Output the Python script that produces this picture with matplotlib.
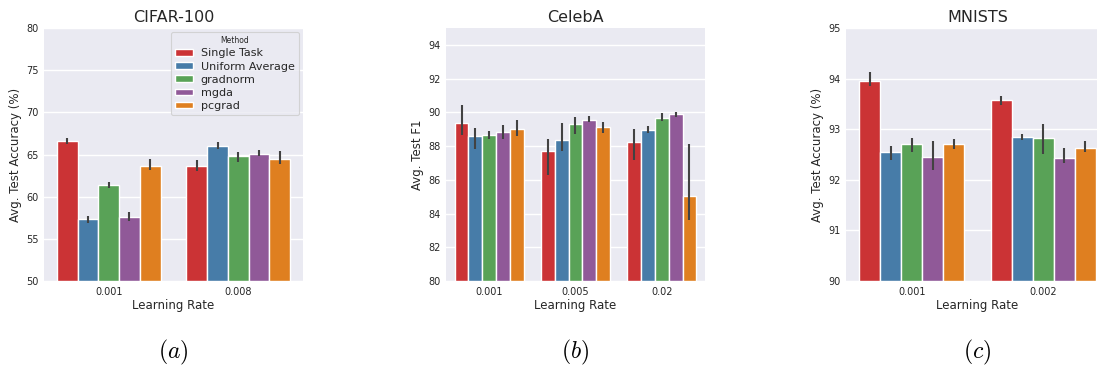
import colorsys
import matplotlib
matplotlib.use("Agg")
import matplotlib.pyplot as plt
import matplotlib.colors as mcolors
import numpy as np

methods = ["Single Task", "Uniform Average", "gradnorm", "mgda", "pcgrad"]

# CIFAR-100
cifar_lr = ["0.001", "0.008"]
cifar_mean = [[66.6, 57.3, 61.4, 57.6, 63.6],
              [63.6, 65.95, 64.85, 65.1, 64.45]]
cifar_lo = [[66.28, 56.92, 61.0, 57.12, 63.12],
            [63.04, 65.68, 64.16, 64.8, 63.88]]
cifar_hi = [[67.0, 57.72, 61.72, 58.2, 64.44],
            [64.36, 66.44, 65.32, 65.48, 65.4]]

# CelebA
celeba_lr = ["0.001", "0.005", "0.02"]
celeba_mean = [[89.38, 88.62, 88.68, 88.84, 89.02],
               [87.7, 88.38, 89.28, 89.56, 89.16],
               [88.22, 88.98, 89.68, 89.9, 85.06]]
celeba_lo = [[88.68, 87.84, 88.42, 88.42, 88.6],
             [86.3, 87.7, 88.72, 89.42, 88.78],
             [87.18, 88.78, 89.48, 89.74, 83.6]]
celeba_hi = [[90.44, 89.08, 88.9, 89.22, 89.54],
             [88.44, 89.34, 89.7, 89.78, 89.4],
             [89.04, 89.2, 89.94, 90.04, 88.1]]

# MNISTS
mnist_lr = ["0.001", "0.002"]
mnist_mean = [[93.95, 92.55, 92.7, 92.45, 92.71],
              [93.58, 92.84, 92.83, 92.43, 92.63]]
mnist_lo = [[93.86, 92.4, 92.55, 92.2, 92.6],
            [93.48, 92.79, 92.51, 92.33, 92.55]]
mnist_hi = [[94.14, 92.66, 92.82, 92.77, 92.8],
            [93.65, 92.9, 93.1, 92.62, 92.77]]


def desat(c, prop=0.75):
    h, l, s = colorsys.rgb_to_hls(*mcolors.to_rgb(c))
    return colorsys.hls_to_rgb(h, l, s * prop)


colors = [desat(c) for c in ["#e41a1c", "#377eb8", "#4daf4a", "#984ea3", "#ff7f00"]]
txt = "#262626"

fig = plt.figure(figsize=(10.97, 3.66), dpi=100)


def panel(rect, title, lrs, mean, lo, hi, ylim, yticks, ylabel, caption, legend=False):
    ax = fig.add_axes(rect)
    ax.set_facecolor("#eaeaf2")
    for s in ax.spines.values():
        s.set_visible(False)
    ax.grid(axis="y", color="white", lw=1.0)
    ax.set_axisbelow(True)
    w = 0.16
    for j, m in enumerate(methods):
        xs = np.arange(len(lrs)) + (j - 2) * w
        ys = [mean[i][j] for i in range(len(lrs))]
        ax.bar(xs, np.array(ys) - ylim[0], bottom=ylim[0], width=w, color=colors[j],
               edgecolor="white", lw=1.0, label=m)
        ax.vlines(xs, [lo[i][j] for i in range(len(lrs))], [hi[i][j] for i in range(len(lrs))],
                  color="#424242", lw=1.5, zorder=3)
    ax.set_xlim(-0.5, len(lrs) - 0.5)
    ax.set_ylim(*ylim)
    ax.set_yticks(yticks)
    ax.set_xticks(range(len(lrs)))
    ax.set_xticklabels(lrs)
    ax.tick_params(length=0, labelsize=7, colors=txt, pad=4)
    ax.set_xlabel("Learning Rate", fontsize=8.5, color=txt, labelpad=2)
    ax.set_ylabel(ylabel, fontsize=8.5, color=txt, labelpad=3)
    ax.set_title(title, fontsize=11.5, color=txt, pad=4)
    if legend:
        lg = ax.legend(title="Method", loc="upper right", fontsize=8, title_fontsize=5.5,
                       frameon=True, facecolor="#eaeaf2", edgecolor="#cccccc",
                       handlelength=1.6, handleheight=0.55, handletextpad=0.7,
                       labelspacing=0.28, borderaxespad=0.35, borderpad=0.4)
        lg.get_frame().set_linewidth(0.8)
        for t in lg.get_texts():
            t.set_color(txt)
        lg.get_title().set_color(txt)
    cx = rect[0] + rect[2] / 2 if caption != "(c)" else 977 / 1097
    fig.text(cx, 1 - 352 / 366, "$" + caption + "$", ha="center", va="center",
             fontsize=17, math_fontfamily="cm", color="black")
    return ax


bottom = 1 - 281 / 366
height = (281 - 28) / 366
panel([44 / 1097, bottom, 259 / 1097, height], "CIFAR-100", cifar_lr, cifar_mean, cifar_lo, cifar_hi,
      (50, 80), [50, 55, 60, 65, 70, 75, 80], "Avg. Test Accuracy (%)", "(a)", legend=True)
panel([446 / 1097, bottom, 259 / 1097, height], "CelebA", celeba_lr, celeba_mean, celeba_lo, celeba_hi,
      (80, 95), [80, 82, 84, 86, 88, 90, 92, 94], "Avg. Test F1", "(b)")
panel([846 / 1097, bottom, 263 / 1097, height], "MNISTS", mnist_lr, mnist_mean, mnist_lo, mnist_hi,
      (90, 95), [90, 91, 92, 93, 94, 95], "Avg. Test Accuracy (%)", "(c)")

fig.savefig("out.png", dpi=100)
